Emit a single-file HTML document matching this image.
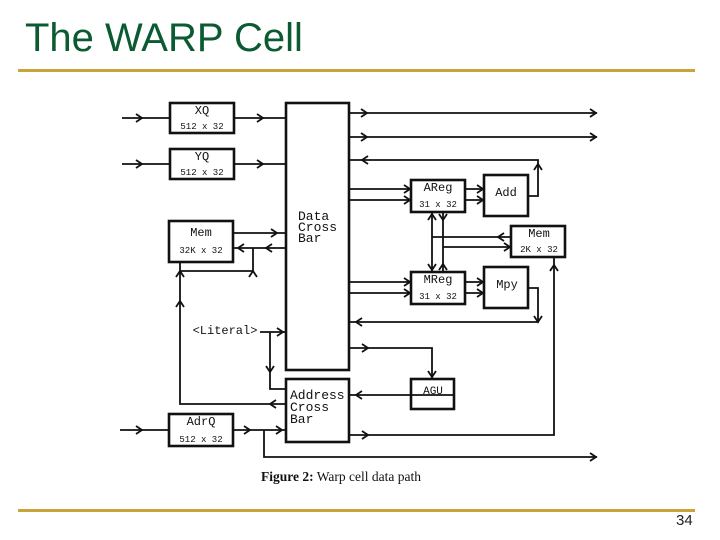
<!DOCTYPE html>
<html><head><meta charset="utf-8"><style>
body{margin:0;width:720px;height:540px;background:#fff;overflow:hidden;position:relative;font-family:"Liberation Sans",sans-serif}
.t{position:absolute;left:25px;top:14px;font-size:40px;color:#0b5a32;line-height:48px}
.hl{position:absolute;left:18px;width:677px;height:3px;background:#c9a43a}
.n{position:absolute;left:676px;top:512px;font-size:15px;color:#222}
svg{position:absolute;left:0;top:0}
</style></head><body>
<div class="t">The WARP Cell</div>
<div class="hl" style="top:69px"></div>
<div class="hl" style="top:509px"></div>
<div class="n">34</div>
<svg width="720" height="540" font-family="'Liberation Mono',monospace" fill="none" stroke="#111">
<g stroke-width="2.6">
<rect x="170" y="103" width="64" height="30"/>
<rect x="170" y="149" width="64" height="30"/>
<rect x="169" y="221" width="64" height="41"/>
<rect x="169" y="414" width="64" height="32"/>
<rect x="286" y="103" width="63" height="267"/>
<rect x="286" y="379" width="63" height="63"/>
<rect x="411" y="180" width="54" height="32"/>
<rect x="484" y="175" width="44" height="41"/>
<rect x="511" y="226" width="54" height="31"/>
<rect x="411" y="272" width="54" height="32"/>
<rect x="484" y="267" width="44" height="41"/>
<rect x="411" y="379" width="43" height="30"/>
</g>
<g stroke-width="1.8">
<path d="M122 118H170M234 118H286M122 164H170M234 164H286"/>
<path d="M349 113H597M349 137H597M349 160H538V196H528"/>
<path d="M349 189H411M349 200H411M465 189H484M465 200H484"/>
<path d="M432 212V272M443 212V272M432 237H511M443 247H511"/>
<path d="M349 282H411M349 293H411M465 282H484M465 293H484M528 288H538V322H349"/>
<path d="M554 257V435H349"/>
<path d="M233 233H286M233 248H286M253 248V271M180 262V404H286M180 271H253"/>
<path d="M260 332H286M270 332V389H286M349 348H432V379M454 395H349"/>
<path d="M120 430H169M233 430H286M264 430V457H597"/>
</g>
<g stroke-width="1.8">
<path d="M136 114l6 4-6 4M136 160l6 4-6 4M257 114l6 4-6 4M257 160l6 4-6 4"/>
<path d="M361 109l6 4-6 4M361 133l6 4-6 4M590 109l6 4-6 4M590 133l6 4-6 4M368 156l-6 4 6 4"/>
<path d="M534 170l4-6 4 6M404 185l6 4-6 4M404 196l6 4-6 4M477 185l6 4-6 4M477 196l6 4-6 4"/>
<path d="M428 220l4-6 4 6M439 214l4 6 4-6M428 264l4 6 4-6M439 270l4-6 4 6M504 233l-6 4 6 4M504 243l6 4-6 4"/>
<path d="M404 278l6 4-6 4M404 289l6 4-6 4M477 278l6 4-6 4M477 289l6 4-6 4M534 316l4 6 4-6M362 318l-6 4 6 4"/>
<path d="M550 271l4-6 4 6M362 344l6 4-6 4M428 371l4 6 4-6M362 391l-6 4 6 4M362 431l6 4-6 4"/>
<path d="M271 229l6 4-6 4M244 244l-6 4 6 4M272 244l-6 4 6 4M176 277l4-6 4 6M249 277l4-6 4 6M176 307l4-6 4 6M276 400l-6 4 6 4"/>
<path d="M277 328l6 4-6 4M266 366l4 6 4-6M136 426l6 4-6 4M244 426l6 4-6 4M276 426l6 4-6 4M590 453l6 4-6 4"/>
</g>
<g fill="#111" stroke="none" text-anchor="middle">
<text x="202" y="114" font-size="12">XQ</text><text x="202" y="129" font-size="9">512 x 32</text>
<text x="202" y="160" font-size="12">YQ</text><text x="202" y="175" font-size="9">512 x 32</text>
<text x="201" y="236" font-size="12">Mem</text><text x="201" y="253" font-size="9">32K x 32</text>
<text x="201" y="425" font-size="12">AdrQ</text><text x="201" y="442" font-size="9">512 x 32</text>
<text x="438" y="191" font-size="12">AReg</text><text x="438" y="207" font-size="9">31 x 32</text>
<text x="506" y="196" font-size="12">Add</text>
<text x="539" y="237" font-size="12">Mem</text><text x="539" y="252" font-size="9">2K x 32</text>
<text x="438" y="283" font-size="12">MReg</text><text x="438" y="299" font-size="9">31 x 32</text>
<text x="507" y="288" font-size="12">Mpy</text>
<text x="433" y="394" font-size="11">AGU</text>
<text x="225" y="334" font-size="12">&lt;Literal&gt;</text>
</g>
<g fill="#111" stroke="none" font-size="13">
<text x="298" y="220">Data</text><text x="298" y="231">Cross</text><text x="298" y="242">Bar</text>
<text x="290" y="399">Address</text><text x="290" y="411">Cross</text><text x="290" y="423">Bar</text>
</g>
<text x="261" y="481" fill="#111" stroke="none" font-family="'Liberation Serif',serif" font-size="13.5"><tspan font-weight="bold">Figure 2:</tspan>   Warp cell data path</text>
</svg>
</body></html>
